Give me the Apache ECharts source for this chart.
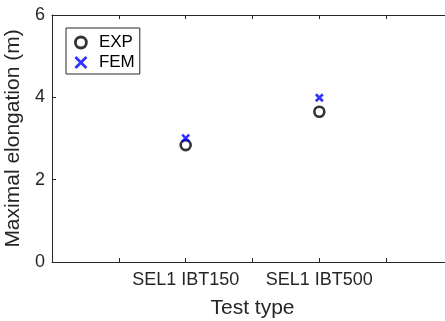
<!DOCTYPE html>
<html>
<head>
<meta charset="utf-8">
<script src="https://cdn.jsdelivr.net/npm/echarts@6/dist/echarts.min.js"></script>
<style>
  html, body { margin: 0; padding: 0; background: #fff; }
  #chart { width: 445px; height: 321px; }
</style>
</head>
<body>
<div id="chart"></div>
<script>
// Tick labels along the test-type axis (one per unit step, blanks between tests)
const xTickLabels = ['', '', 'SEL1 IBT150', '', 'SEL1 IBT500', '', ''];
// Tests that have results, in axis order
const testTypes = ['SEL1 IBT150', 'SEL1 IBT500'];
// Maximal elongation (m)
const expValues = [2.84, 3.65];
const femValues = [3.01, 3.99];
const yTicks = [0, 2, 4, 6];

const AXIS = '#262626';
const FONT = '"Liberation Sans", Arial, Helvetica, sans-serif';
const CROSS = 'path://M0,0L10,10M0,10L10,0';

function testPos(name) { return xTickLabels.indexOf(name); }
const expData = testTypes.map((t, i) => [testPos(t), expValues[i]]);
const femData = testTypes.map((t, i) => [testPos(t), femValues[i]]);

const chart = echarts.init(document.getElementById('chart'), null, { renderer: 'canvas' });

const baseX = {
  type: 'value', min: 0, max: xTickLabels.length - 1, interval: 1,
  axisLine: { show: true, onZero: false, lineStyle: { color: AXIS, width: 1 } },
  axisTick: { show: true, inside: true, length: 4, lineStyle: { color: AXIS } },
  splitLine: { show: false }
};
const baseY = {
  type: 'value', min: yTicks[0], max: yTicks[yTicks.length - 1], interval: 2,
  axisLine: { show: true, onZero: false, lineStyle: { color: AXIS, width: 1 } },
  axisTick: { show: true, inside: true, length: 4, lineStyle: { color: AXIS } },
  splitLine: { show: false }
};

chart.setOption({
  animation: false,
  backgroundColor: '#fff',
  grid: { left: 52, top: 15, width: 401, bottom: 59, containLabel: false, outerBoundsMode: 'none' },
  legend: {
    orient: 'vertical',
    left: 66, top: 28,
    padding: [5, 5, 2, 8],
    itemGap: 1,
    itemWidth: 12, itemHeight: 11,
    borderColor: AXIS, borderWidth: 1,
    backgroundColor: '#fff',
    textStyle: { fontFamily: FONT, fontSize: 17, color: '#000', padding: [0, 0, 0, 7], lineHeight: 19 },
    data: [
      { name: 'EXP', icon: 'circle', itemStyle: { color: '#fff', borderColor: '#000', borderWidth: 2.8 } },
      { name: 'FEM', icon: CROSS, itemStyle: { color: '#0000ff', borderColor: '#0000ff', borderWidth: 2.8 } }
    ]
  },
  xAxis: [
    Object.assign({}, baseX, {
      position: 'bottom',
      name: 'Test type', nameLocation: 'middle', nameGap: 36,
      nameTextStyle: { fontFamily: FONT, fontSize: 21, color: AXIS },
      axisLabel: {
        show: true, margin: 9, fontFamily: FONT, fontSize: 18, color: AXIS,
        formatter: v => xTickLabels[Math.round(v)] || ''
      }
    }),
    Object.assign({}, baseX, { position: 'top', axisLabel: { show: false } })
  ],
  yAxis: [
    Object.assign({}, baseY, {
      position: 'left',
      name: 'Maximal elongation (m)', nameLocation: 'middle', nameGap: 15,
      nameTextStyle: { fontFamily: FONT, fontSize: 21, color: AXIS },
      axisLabel: { show: true, margin: 7, fontFamily: FONT, fontSize: 18, color: AXIS }
    }),
    Object.assign({}, baseY, { position: 'right', axisLabel: { show: false } })
  ],
  series: [
    {
      name: 'EXP', type: 'scatter', xAxisIndex: 0, yAxisIndex: 0,
      symbol: 'circle', symbolSize: 10,
      itemStyle: { color: '#fff', borderColor: '#000', borderWidth: 2.6 },
      data: expData
    },
    {
      name: 'FEM', type: 'scatter', xAxisIndex: 0, yAxisIndex: 0,
      symbol: CROSS, symbolSize: 7,
      itemStyle: { color: '#0000ff', borderColor: '#0000ff', borderWidth: 2.6 },
      data: femData
    }
  ]
});
</script>
</body>
</html>
